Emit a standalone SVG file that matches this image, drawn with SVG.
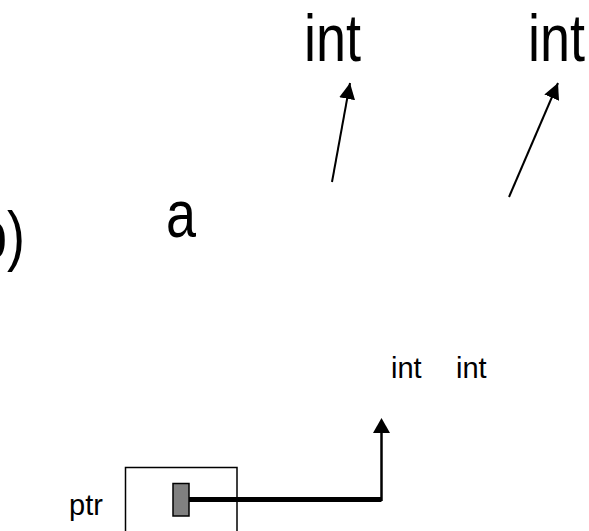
<svg xmlns="http://www.w3.org/2000/svg" width="589" height="531" viewBox="0 0 589 531">
  <style>
    .big { font-family: "Liberation Sans Narrow", "Arial Narrow", "Liberation Sans", Arial, sans-serif; font-size: 66px; fill: #000; }
    .small { font-family: "Liberation Sans", Arial, sans-serif; font-size: 29px; fill: #000; }
    .thin { stroke: #000; stroke-width: 2; fill: none; }
  </style>
  <defs>
    <marker id="ah" viewBox="0 0 10 10" refX="10" refY="5" markerWidth="8" markerHeight="8" markerUnits="strokeWidth" orient="auto">
      <path d="M0,0 L10,5 L0,10 Z" fill="#000"/>
    </marker>
  </defs>
  <rect width="589" height="531" fill="#fff"/>

  <g id="label-b">
    <text class="big" x="-23" y="258" textLength="48" lengthAdjust="spacingAndGlyphs">b)</text>
  </g>
  <g id="label-a">
    <text class="big" x="166" y="237" textLength="30" lengthAdjust="spacingAndGlyphs">a</text>
  </g>
  <g id="int-top-1">
    <text class="big" x="304" y="61" textLength="57" lengthAdjust="spacingAndGlyphs">int</text>
  </g>
  <g id="int-top-2">
    <text class="big" x="528" y="61" textLength="57" lengthAdjust="spacingAndGlyphs">int</text>
  </g>
  <g id="int-bottom-1">
    <text class="small" x="391" y="378">int</text>
  </g>
  <g id="int-bottom-2">
    <text class="small" x="456" y="378">int</text>
  </g>
  <g id="label-ptr">
    <text class="small" x="69" y="515">ptr</text>
  </g>
  <g id="ptr-box">
    <rect x="125.5" y="467.5" width="111.5" height="70" fill="none" stroke="#000" stroke-width="1.5"/>
    <rect x="173" y="483.5" width="16" height="32.5" fill="#808080" stroke="#000" stroke-width="1.5"/>
  </g>

  <g id="connectors">
    <line class="thin" x1="332" y1="182" x2="350" y2="83" marker-end="url(#ah)"/>
    <line class="thin" x1="509" y1="197" x2="558" y2="83" marker-end="url(#ah)"/>
    <polyline points="189,499.5 381.5,499.5" fill="none" stroke="#000" stroke-width="5"/>
    <polyline points="381.5,501 381.5,432" fill="none" stroke="#000" stroke-width="2.5"/>
    <path d="M381.5,418 L390,433 L373,433 Z" fill="#000"/>
  </g>
</svg>
